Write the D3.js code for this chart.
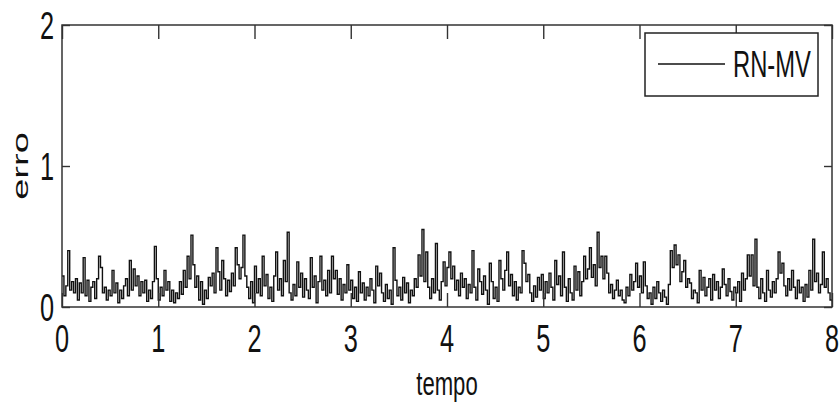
<!DOCTYPE html>
<html>
<head>
<meta charset="utf-8">
<script src="https://cdn.jsdelivr.net/npm/d3@7"></script>
<style>
  html, body { margin: 0; padding: 0; background: #fff; }
  svg { display: block; }
  text { font-family: "Liberation Sans", Arial, sans-serif; fill: #111; }
</style>
</head>
<body>
<svg id="chart" width="840" height="408"></svg>
<script>
// Error signal of the RN-MV model, sampled every 0.02 time units from t = 0 to t = 8
const sampleStep = 0.02;
const erro = [
  // 0 – 0.98
  0.22,0.08,0.15,0.40,0.12,0.18,0.10,0.20,0.05,0.17, 0.10,0.35,0.08,0.19,0.04,0.14,0.18,0.06,0.20,0.36,
  0.28,0.10,0.14,0.05,0.12,0.08,0.26,0.10,0.17,0.03, 0.12,0.06,0.15,0.20,0.08,0.33,0.12,0.27,0.15,0.22,
  0.08,0.18,0.10,0.19,0.04,0.12,0.06,0.18,0.43,0.20,
  // 1 – 1.98
  0.05,0.14,0.08,0.26,0.12,0.18,0.04,0.12,0.03,0.10, 0.06,0.18,0.09,0.26,0.14,0.36,0.20,0.51,0.30,0.14,
  0.22,0.05,0.18,0.02,0.12,0.06,0.21,0.15,0.24,0.10, 0.42,0.25,0.12,0.33,0.20,0.08,0.19,0.11,0.24,0.15,
  0.42,0.30,0.20,0.28,0.51,0.22,0.14,0.06,0.18,0.03,
  // 2 – 2.98
  0.29,0.10,0.20,0.08,0.36,0.15,0.23,0.06,0.14,0.04, 0.22,0.39,0.12,0.20,0.08,0.33,0.18,0.53,0.10,0.05,
  0.16,0.08,0.32,0.14,0.24,0.07,0.20,0.12,0.06,0.35, 0.14,0.22,0.03,0.18,0.36,0.12,0.19,0.08,0.26,0.10,
  0.36,0.20,0.26,0.09,0.20,0.05,0.16,0.10,0.30,0.12,
  // 3 – 3.98
  0.19,0.06,0.14,0.04,0.25,0.10,0.17,0.05,0.14,0.08, 0.20,0.12,0.03,0.29,0.15,0.24,0.10,0.04,0.16,0.06,
  0.12,0.02,0.42,0.19,0.08,0.14,0.05,0.21,0.10,0.17, 0.03,0.12,0.08,0.20,0.14,0.37,0.22,0.55,0.18,0.39,
  0.14,0.06,0.20,0.10,0.45,0.12,0.05,0.18,0.32,0.15,
  // 4 – 4.98
  0.28,0.39,0.20,0.29,0.12,0.19,0.08,0.24,0.14,0.20, 0.06,0.16,0.10,0.40,0.14,0.05,0.27,0.18,0.09,0.22,
  0.12,0.02,0.31,0.18,0.06,0.14,0.04,0.33,0.20,0.12, 0.26,0.39,0.15,0.23,0.08,0.18,0.05,0.14,0.10,0.40,
  0.31,0.18,0.23,0.10,0.04,0.15,0.07,0.21,0.12,0.23,
  // 5 – 5.98
  0.06,0.18,0.10,0.24,0.14,0.05,0.33,0.16,0.22,0.08, 0.39,0.14,0.04,0.20,0.10,0.05,0.29,0.12,0.25,0.08,
  0.18,0.36,0.20,0.27,0.42,0.21,0.30,0.15,0.53,0.28, 0.36,0.20,0.36,0.24,0.10,0.16,0.06,0.12,0.19,0.08,
  0.12,0.05,0.03,0.14,0.08,0.23,0.12,0.18,0.31,0.14,
  // 6 – 6.98
  0.22,0.10,0.32,0.15,0.06,0.10,0.02,0.14,0.06,0.18, 0.10,0.04,0.12,0.07,0.02,0.16,0.40,0.28,0.44,0.30,
  0.37,0.18,0.25,0.33,0.14,0.20,0.17,0.06,0.12,0.10, 0.03,0.26,0.12,0.21,0.08,0.14,0.20,0.05,0.23,0.12,
  0.18,0.06,0.14,0.27,0.16,0.08,0.20,0.11,0.05,0.14,
  // 7 – 8
  0.10,0.18,0.04,0.24,0.12,0.20,0.37,0.22,0.37,0.15, 0.48,0.14,0.06,0.20,0.10,0.04,0.26,0.12,0.07,0.18,
  0.10,0.20,0.39,0.24,0.31,0.15,0.08,0.20,0.12,0.26, 0.14,0.06,0.19,0.10,0.14,0.04,0.16,0.07,0.26,0.12,
  0.48,0.18,0.24,0.10,0.16,0.39,0.14,0.20,0.10,0.05,
  0.04
];

const xTicks = [0, 1, 2, 3, 4, 5, 6, 7, 8];
const yTicks = [0, 1, 2];
const xTitle = "tempo";
const yTitle = "erro";
const seriesName = "RN-MV";

const svg = d3.select("#chart");
const plot = { left: 62, right: 832, top: 25, bottom: 307 };

const x = d3.scaleLinear().domain([0, 8]).range([plot.left, plot.right]);
const y = d3.scaleLinear().domain([0, 2]).range([plot.bottom, plot.top]);

// clip region for the signal
svg.append("defs").append("clipPath").attr("id", "plotClip")
  .append("rect")
  .attr("x", plot.left).attr("y", plot.top)
  .attr("width", plot.right - plot.left).attr("height", plot.bottom - plot.top);

// signal, drawn as a stair trace of the sampled values
const points = erro.map((v, i) => [i * sampleStep, v]);
const line = d3.line().curve(d3.curveStepAfter).x(d => x(d[0])).y(d => y(d[1]));
svg.append("path")
  .datum(points)
  .attr("clip-path", "url(#plotClip)")
  .attr("fill", "none")
  .attr("stroke", "#111")
  .attr("stroke-width", 1.4)
  .attr("d", line);

// inward ticks on all four sides
function styleAxis(g) {
  g.select(".domain").remove();
  g.selectAll(".tick line").attr("stroke", "#333").attr("stroke-width", 1.4);
  g.selectAll(".tick text").remove();
}
svg.append("g").attr("transform", `translate(0,${plot.bottom})`)
  .call(d3.axisBottom(x).tickValues(xTicks).tickSize(-14).tickFormat("")).call(styleAxis);
svg.append("g").attr("transform", `translate(0,${plot.top})`)
  .call(d3.axisTop(x).tickValues(xTicks).tickSize(-14).tickFormat("")).call(styleAxis);
svg.append("g").attr("transform", `translate(${plot.left},0)`)
  .call(d3.axisLeft(y).tickValues(yTicks).tickSize(-8).tickFormat("")).call(styleAxis);
svg.append("g").attr("transform", `translate(${plot.right},0)`)
  .call(d3.axisRight(y).tickValues(yTicks).tickSize(-8).tickFormat("")).call(styleAxis);

// frame
svg.append("rect")
  .attr("x", plot.left).attr("y", plot.top)
  .attr("width", plot.right - plot.left).attr("height", plot.bottom - plot.top)
  .attr("fill", "none").attr("stroke", "#333").attr("stroke-width", 1.5);

// tick labels (narrow, tall glyphs)
svg.append("g").selectAll("text").data(xTicks).join("text")
  .attr("transform", d => `translate(${x(d)},352) scale(0.65,1)`)
  .attr("text-anchor", "middle")
  .attr("font-size", 39)
  .text(d => d);

svg.append("g").selectAll("text").data(yTicks).join("text")
  .attr("transform", d => `translate(54,${y(d) + 14}) scale(0.65,1)`)
  .attr("text-anchor", "end")
  .attr("font-size", 39)
  .text(d => d);

// axis titles
svg.append("text")
  .attr("transform", `translate(${(plot.left + plot.right) / 2},395) scale(0.65,1)`)
  .attr("text-anchor", "middle")
  .attr("font-size", 34)
  .text(xTitle);

svg.append("text")
  .attr("transform", `translate(28,${(plot.top + plot.bottom) / 2}) scale(0.6,1) rotate(-90)`)
  .attr("text-anchor", "middle")
  .attr("font-size", 38)
  .text(yTitle);

// legend
const legend = svg.append("g");
legend.append("rect")
  .attr("x", 645).attr("y", 33).attr("width", 173).attr("height", 63)
  .attr("fill", "#fff").attr("stroke", "#222").attr("stroke-width", 1.5);
legend.append("line")
  .attr("x1", 658).attr("x2", 725).attr("y1", 64).attr("y2", 64)
  .attr("stroke", "#111").attr("stroke-width", 1.5);
legend.append("text")
  .attr("transform", "translate(733,77) scale(0.66,1)")
  .attr("font-size", 36)
  .text(seriesName);
</script>
</body>
</html>
